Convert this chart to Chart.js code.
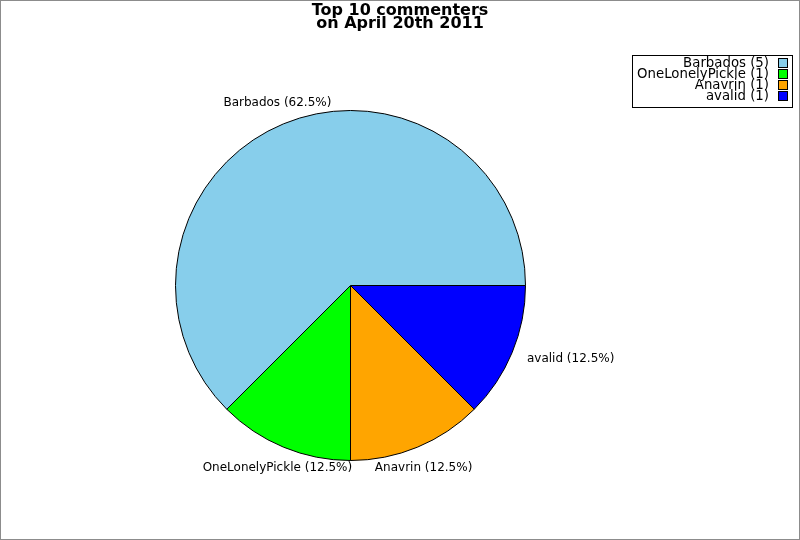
<!DOCTYPE html>
<html><head><meta charset="utf-8">
<script src="https://cdn.jsdelivr.net/npm/chart.js@4"></script>
<style>html,body{margin:0;padding:0;background:#fff}canvas{display:block}</style>
</head><body>
<canvas id="c" width="800" height="540"></canvas>
<script>
const titleLines = ["Top 10 commenters", "on April 20th 2011"];
const names = ["Barbados", "OneLonelyPickle", "Anavrin", "avalid"];
const counts = [5, 1, 1, 1];
const colors = ["#87ceeb", "#00ff00", "#ffa500", "#0000ff"];

const total = counts.reduce((a, b) => a + b, 0);
// Original draws counter-clockwise from 3 o'clock; Chart.js draws clockwise, so reverse.
const rNames = names.slice().reverse();
const rCounts = counts.slice().reverse();
const rColors = colors.slice().reverse();
const FONT = "'DejaVu Sans', sans-serif";

const deco = {
  id: 'deco',
  afterDraw(chart) {
    const ctx = chart.ctx;
    ctx.save();
    // frame
    ctx.strokeStyle = '#8c8c8c';
    ctx.lineWidth = 1;
    ctx.strokeRect(0.5, 0.5, 799, 539);
    // title
    ctx.fillStyle = '#000';
    ctx.font = 'bold 16px ' + FONT;
    ctx.textAlign = 'center';
    ctx.textBaseline = 'middle';
    ctx.fillText(titleLines[0], 400, 11);
    ctx.fillText(titleLines[1], 400, 24);
    // slice labels
    ctx.font = '12px ' + FONT;
    const meta = chart.getDatasetMeta(0);
    meta.data.forEach((arc, i) => {
      const p = arc.getProps(['x', 'y', 'startAngle', 'endAngle', 'outerRadius'], true);
      const mid = (p.startAngle + p.endAngle) / 2;
      const r = p.outerRadius + 16;
      const c = Math.cos(mid), s = Math.sin(mid);
      const x = p.x + c * r, y = p.y + s * r;
      if (Math.abs(s) > Math.abs(c)) {
        ctx.textAlign = 'center';
        ctx.textBaseline = s > 0 ? 'top' : 'bottom';
      } else {
        ctx.textAlign = c > 0 ? 'left' : 'right';
        ctx.textBaseline = 'middle';
      }
      const pct = (rCounts[i] / total * 100).toFixed(1);
      ctx.fillText(rNames[i] + ' (' + pct + '%)', x, y);
    });
    // legend
    ctx.fillStyle = '#fff';
    ctx.fillRect(632.5, 55.5, 160, 52);
    ctx.strokeStyle = '#000';
    ctx.strokeRect(632.5, 55.5, 160, 52);
    ctx.font = '13.3px ' + FONT;
    ctx.textAlign = 'right';
    ctx.textBaseline = 'middle';
    names.forEach((n, i) => {
      const yy = 64 + i * 11;
      ctx.fillStyle = '#000';
      ctx.fillText(n + ' (' + counts[i] + ')', 769, yy);
      ctx.fillStyle = colors[i];
      ctx.fillRect(778.5, yy - 5.5, 9, 9);
      ctx.strokeStyle = '#000';
      ctx.strokeRect(778.5, yy - 5.5, 9, 9);
    });
    ctx.restore();
  }
};

new Chart(document.getElementById('c'), {
  type: 'pie',
  data: {
    labels: rNames,
    datasets: [{
      data: rCounts,
      backgroundColor: rColors,
      borderColor: '#000',
      borderWidth: 1,
      hoverOffset: 0
    }]
  },
  options: {
    responsive: false,
    animation: false,
    devicePixelRatio: 1,
    rotation: 90,
    layout: { padding: { left: 175, right: 274, top: 110, bottom: 79 } },
    plugins: { legend: { display: false }, title: { display: false }, tooltip: { enabled: false } }
  },
  plugins: [deco]
});
</script>
</body></html>
